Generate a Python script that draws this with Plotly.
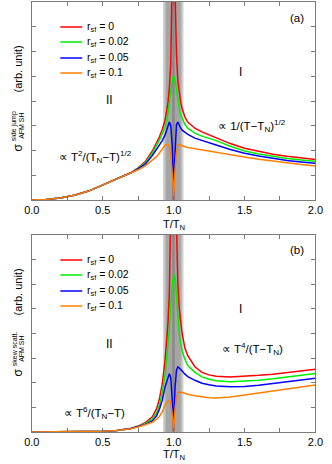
import plotly.graph_objects as go

# reduced temperature T/T_N (shared sampling for all curves)
t_vals = [0, 0.1, 0.2, 0.3, 0.4, 0.5, 0.6, 0.7, 0.75, 0.8, 0.85, 0.88, 0.9, 0.92, 0.94,
          0.96, 0.97, 0.98, 0.99, 0.995, 1.0, 1.005, 1.01, 1.02, 1.03, 1.04, 1.05, 1.06,
          1.08, 1.1, 1.15, 1.2, 1.25, 1.3, 1.4, 1.5, 1.6, 1.7, 1.8, 1.9, 2.0]

# panel (a): side jump
red_a = [0, 0.02, 0.08, 0.19, 0.36, 0.6, 0.84, 1.11, 1.3, 1.55, 1.98, 2.3, 2.55, 2.85, 3.23,
         3.9, 4.5, 5.5, 7.6, 10, 13, 10.5, 8.5, 5.9, 4.8, 4.3, 3.95, 3.7,
         3.35, 3.15, 2.9, 2.75, 2.63, 2.52, 2.28, 2.09, 1.96, 1.85, 1.77, 1.7, 1.64]
green_a = [0, 0.02, 0.08, 0.19, 0.36, 0.6, 0.84, 1.1, 1.29, 1.5, 1.9, 2.2, 2.42, 2.68, 2.96,
           3.5, 3.9, 4.4, 4.85, 4.98, 4.92, 4.98, 4.85, 4.4, 4.0, 3.7, 3.45, 3.3,
           3.05, 2.9, 2.7, 2.58, 2.49, 2.4, 2.17, 1.98, 1.86, 1.76, 1.68, 1.62, 1.57]
blue_a = [0, 0.02, 0.08, 0.19, 0.36, 0.6, 0.84, 1.1, 1.27, 1.45, 1.8, 2.05, 2.2, 2.4, 2.63,
          2.95, 3.15, 3.0, 2.2, 1.3, 0.0, 1.3, 2.2, 3.05, 3.15, 3.0, 2.9, 2.82,
          2.72, 2.65, 2.5, 2.4, 2.33, 2.22, 2.04, 1.89, 1.78, 1.68, 1.6, 1.54, 1.48]
orange_a = [0, 0.02, 0.08, 0.19, 0.36, 0.6, 0.83, 1.08, 1.22, 1.38, 1.6, 1.75, 1.9, 2.05, 2.22,
            2.25, 2.15, 1.8, 1.2, 0.7, 0.0, 0.7, 1.25, 1.9, 2.22, 2.25, 2.22, 2.19,
            2.15, 2.12, 2.07, 2.03, 1.98, 1.94, 1.83, 1.74, 1.65, 1.57, 1.5, 1.43, 1.37]

# panel (b): skew scattering
red_b = [0, 0, 0, 0.005, 0.01, 0.03, 0.06, 0.15, 0.24, 0.38, 0.62, 0.95, 1.35, 1.95, 2.93,
         4.4, 5.6, 7.5, 11, 14, 16, 14, 11, 7.8, 6.0, 5.0, 4.4, 4.0,
         3.4, 3.1, 2.65, 2.42, 2.32, 2.26, 2.23, 2.25, 2.3, 2.35, 2.42, 2.48, 2.55]
green_b = [0, 0, 0, 0.005, 0.01, 0.03, 0.06, 0.14, 0.23, 0.34, 0.53, 0.78, 1.1, 1.6, 2.32,
           3.4, 4.2, 5.2, 6.0, 6.2, 6.1, 6.4, 6.3, 5.5, 4.6, 4.0, 3.6, 3.3,
           2.95, 2.7, 2.42, 2.24, 2.14, 2.08, 2.04, 2.06, 2.1, 2.16, 2.23, 2.3, 2.38]
blue_b = [0, 0, 0, 0.005, 0.01, 0.03, 0.06, 0.14, 0.22, 0.31, 0.45, 0.66, 0.92, 1.3, 1.84,
          2.25, 2.37, 2.2, 1.5, 0.9, 0.05, 1.0, 1.8, 2.5, 2.64, 2.6, 2.55, 2.48,
          2.35, 2.25, 2.1, 1.98, 1.92, 1.87, 1.84, 1.85, 1.9, 1.97, 2.04, 2.11, 2.18]
orange_b = [0, 0, 0, 0.005, 0.01, 0.03, 0.06, 0.13, 0.2, 0.28, 0.39, 0.52, 0.63, 0.82, 1.1,
            1.25, 1.29, 1.2, 0.8, 0.45, 0, 0.5, 0.95, 1.4, 1.6, 1.62, 1.62, 1.6,
            1.57, 1.53, 1.47, 1.42, 1.39, 1.38, 1.42, 1.5, 1.58, 1.66, 1.75, 1.83, 1.91]

r_sf_labels = ["0", "0.02", "0.05", "0.1"]
colors = ["#ff0000", "#00ee00", "#0000ff", "#ff8000"]

# shaded band around T_N (outer -> inner edges)
band_edges = [(0.925, 1.07), (0.935, 1.06), (0.945, 1.05), (0.99, 1.008)]
band_colors = ["#d4d4d4", "#bdbdbd", "#a5a5a5", "#8a8a8a"]

W, H = 332, 464
FONT = "Liberation Sans, Arial, sans-serif"
AX = "#7a7a7a"


def px(x, y):
    return x / W, 1 - y / H


fig = go.Figure()

panels = [
    ("x", "y", [red_a, green_a, blue_a, orange_a]),
    ("x2", "y2", [red_b, green_b, blue_b, orange_b]),
]
for xa, ya, series in panels:
    for vals, c in zip(series, colors):
        fig.add_trace(go.Scatter(x=t_vals, y=vals, mode="lines", xaxis=xa, yaxis=ya,
                                 line=dict(color=c, width=1.5), showlegend=False,
                                 hoverinfo="skip"))

left, right = px(25, 0)[0], px(323, 0)[0]
dom_a = [px(0, 200)[1], px(0, 2)[1]]
dom_b = [px(0, 432)[1], px(0, 235)[1]]

xcommon = dict(range=[0, 2], domain=[left, right], showline=True, linecolor=AX, linewidth=1,
               mirror="ticks", ticks="inside", ticklen=4, tickcolor=AX, dtick=0.5,
               tickformat=".1f", showgrid=False, zeroline=False,
               minor=dict(dtick=0.25, ticks="inside", ticklen=4, tickcolor=AX),
               tickfont=dict(family=FONT, size=11, color="#000"))
ycommon = dict(range=[0, 8], showline=True, linecolor=AX, linewidth=1, mirror="ticks",
               ticks="inside", ticklen=4, tickcolor=AX, dtick=1, showticklabels=False,
               showgrid=False, zeroline=False)

fig.update_layout(
    width=W, height=H, margin=dict(l=0, r=0, t=0, b=0),
    paper_bgcolor="white", plot_bgcolor="white",
    xaxis=dict(xcommon, anchor="y"),
    yaxis=dict(ycommon, domain=dom_a, anchor="x"),
    xaxis2=dict(xcommon, anchor="y2"),
    yaxis2=dict(ycommon, domain=dom_b, anchor="x2"),
)

shapes = []
for xref, yref in [("x", "y domain"), ("x2", "y2 domain")]:
    for (b0, b1), bc in zip(band_edges, band_colors):
        shapes.append(dict(type="rect", xref=xref, yref=yref, x0=b0, x1=b1, y0=0, y1=1,
                           fillcolor=bc, line=dict(width=0), layer="below"))

ann = []


def text(x, y, s, size=11, angle=0, xanchor="center"):
    xp, yp = px(x, y)
    ann.append(dict(x=xp, y=yp, xref="paper", yref="paper", text=s, showarrow=False,
                    textangle=angle, xanchor=xanchor, yanchor="middle",
                    font=dict(family=FONT, size=size, color="#000")))


# legends
for y0, tag in [(0, "(a)"), (232, "(b)")]:
    legend_y = [27, 42, 58, 73] if y0 == 0 else [28, 43, 59, 74]
    for ly, lab, c in zip(legend_y, r_sf_labels, colors):
        x0p, yp = px(55, y0 + ly)
        x1p, _ = px(78, y0 + ly)
        shapes.append(dict(type="line", xref="paper", yref="paper", x0=x0p, x1=x1p,
                           y0=yp, y1=yp, line=dict(color=c, width=1.5)))
        text(81, y0 + ly, "r<sub>sf</sub> = " + lab, size=10.5, xanchor="left")
    text(304, y0 + 18, tag, size=11.5)
    text(107, y0 + 100 + (12 if y0 else 0), "II", size=12)
    text(244, y0 + 72 + (5 if y0 else 0), "I", size=12)

text(92, 157, "∝ T<sup>2</sup>/(T<sub>N</sub>−T)<sup>1/2</sup>", size=11.5)
text(256, 126, "∝ 1/(T−T<sub>N</sub>)<sup>1/2</sup>", size=11.5)
text(257, 349, "∝ T<sup>4</sup>/(T−T<sub>N</sub>)", size=11.5)
text(91, 413, "∝ T<sup>6</sup>/(T<sub>N</sub>−T)", size=11.5)

# x-axis titles
text(174, 225, "T/T<sub>N</sub>", size=11)
text(174, 455, "T/T<sub>N</sub>", size=11)

# y-axis titles (stacked super/subscripts)
for sup, sig_y, mid_y, unit_y in [("side jump", 147, 126, 69),
                                  ("skew scatt.", 372, 349, 292)]:
    text(11, sig_y, "σ", size=12, angle=-90)
    text(6.5, mid_y, sup, size=7, angle=-90)
    text(13.5, mid_y, "AFM SH", size=7, angle=-90)
    text(11, unit_y, "(arb. unit)", size=11, angle=-90)

fig.update_layout(shapes=shapes, annotations=ann)
fig.write_html("out.html", config={"displayModeBar": False},
               post_script="document.body.style.margin='0';")
